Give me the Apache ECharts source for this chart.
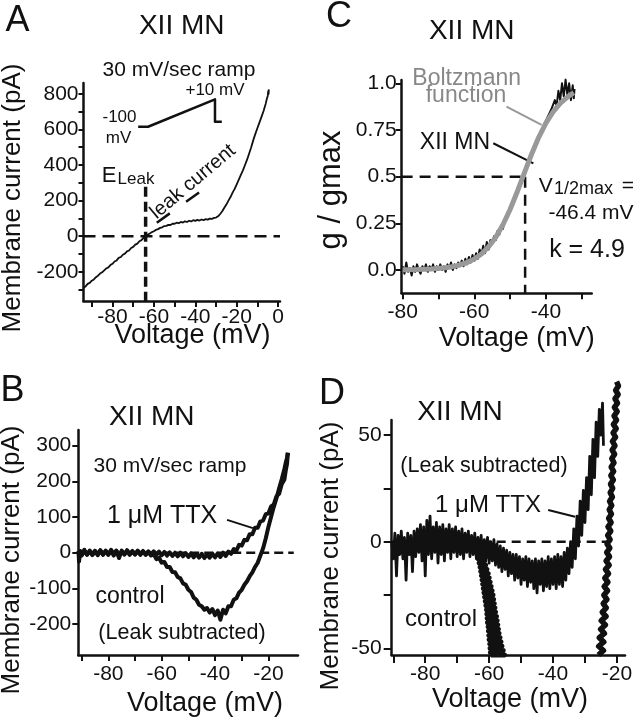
<!DOCTYPE html>
<html><head><meta charset="utf-8">
<script src="https://cdn.jsdelivr.net/npm/echarts@6/dist/echarts.min.js"></script>
<style>html,body{margin:0;padding:0;background:#fff}#c{width:641px;height:720px}</style>
</head><body><div id="c"></div>
<script>
// ================= DATA =================
// Panel A: ramp I-V (Voltage mV, current pA)
const aTrace = [[-94,-290],[-93,-282],[-92,-268],[-91,-262],[-90,-250],[-89,-243],[-88,-230],[-87,-222],[-86,-210],[-85,-203],
[-84,-192],[-83,-181],[-82,-175],[-81,-162],[-80,-155],[-79,-142],[-78,-136],[-77,-122],[-76,-117],[-75,-104],
[-74,-98],[-73,-85],[-72,-80],[-71,-66],[-70,-60],[-69,-47],[-68,-42],[-67,-28],[-66,-22],[-65,-9],
[-64,0],[-63,8],[-62,15],[-61,23],[-60,28],[-59,36],[-58,40],[-57,47],[-56,50],[-55,57],
[-54,58],[-53,64],[-52,63],[-51,70],[-50,70],[-49,76],[-48,73],[-47,80],[-46,77],[-45,84],
[-44,80],[-43,87],[-42,83],[-41,90],[-40,86],[-39,92],[-38,88],[-37,94],[-36,90],[-35,96],
[-34,93],[-33,99],[-32,97],[-31,103],[-30,105],[-29,112],[-28,125],[-27,140],[-26,160],[-25,178],
[-24,200],[-23,220],[-22,245],[-21,266],[-20,292],[-19,318],[-18,345],[-17,370],[-16,400],[-15,430],
[-14,465],[-13,500],[-12,540],[-11,575],[-10,608],[-9,640],[-8,672],[-7,705],[-6,745],
[-5.5,770],[-5,790],[-4.8,815],[-4.6,800],[-4.5,825]];
const aRampInset = [[-67.6,615],[-62.8,615],[-30.5,769],[-30.5,643],[-27.2,643]];
const aLeakLine = [[-58.6,76],[-37.7,250]];
const aZeroLine = [[-94,0],[0.9,0]];
const aELeakLine = [[-64,278],[-64,-364]];
const aXTicks = [-90,-80,-70,-60,-50,-40,-30,-20,-10,0];
const aXLabels = [-80,-60,-40,-20,0];
const aYTicks = [-300,-200,-100,0,100,200,300,400,500,600,700,800];
const aYLabels = [-200,0,200,400,600,800];

// Panel C: normalized conductance
const cTrace = [[-80,0.02],[-79.5,-0.02],[-79,0.04],[-78.5,-0.01],[-78,0.01],[-77.5,-0.03],[-77,0.02],[-76.5,-0.01],[-76,0.03],[-75.5,0.0],
[-75,-0.02],[-74.5,0.02],[-74,0.0],[-73.5,0.03],[-73,-0.01],[-72.5,0.02],[-72,0.0],[-71.5,0.03],[-71,-0.01],[-70.5,0.02],
[-70,0.0],[-69.5,0.03],[-69,0.0],[-68.5,0.02],[-68,-0.01],[-67.5,0.03],[-67,0.01],[-66.5,0.04],[-66,0.0],[-65.5,0.03],
[-65,0.01],[-64.5,0.04],[-64,0.02],[-63.5,0.05],[-63,0.02],[-62.5,0.06],[-62,0.03],[-61.5,0.07],[-61,0.04],[-60.5,0.08],
[-60,0.05],[-59.5,0.09],[-59,0.06],[-58.5,0.11],[-58,0.08],[-57.5,0.13],[-57,0.09],[-56.5,0.15],[-56,0.11],[-55.5,0.16],
[-55,0.14],[-54.5,0.18],[-54,0.16],[-53.5,0.21],[-53,0.19],[-52.5,0.24],[-52,0.22],[-51.5,0.27],[-51,0.26],[-50.5,0.31],
[-50,0.30],[-49.5,0.35],[-49,0.34],[-48.5,0.40],[-48,0.39],[-47.5,0.44],[-47,0.44],[-46.5,0.49],[-46,0.52],[-45.5,0.55],
[-45,0.57],[-44.5,0.60],[-44,0.62],[-43.5,0.65],[-43,0.67],[-42.5,0.69],[-42,0.71],[-41.5,0.74],[-41,0.75],[-40.5,0.78],
[-40,0.79],[-39.5,0.82],[-39,0.82],[-38.5,0.86],[-38,0.85],[-37.5,0.91],[-37,0.88],[-36.5,0.96],[-36,0.91],[-35.5,1.00],
[-35,0.93],[-34.5,1.02],[-34,0.94],[-33.5,1.00],[-33,0.91],[-32.5,0.99],[-32.2,0.92],[-32,0.97]];
const cFitV = [-80,-76,-72,-68,-65,-62,-60,-58,-56,-54,-52,-50,-48,-46.4,-45,-44,-42,-40,-38,-36,-34,-33,-32.2];
const cFitG = [0.001,0.002,0.005,0.012,0.022,0.040,0.059,0.086,0.124,0.175,0.242,0.324,0.419,0.5,0.571,0.62,0.711,0.787,0.847,0.893,0.926,0.94,0.95];
const cHalfH = [[-80.3,0.5],[-45.8,0.5]];
const cHalfV = [[-45.8,0.5],[-45.8,-0.125]];
const cPtrTrace = [[-54.7,0.679],[-43.5,0.571]];
const cPtrFit = [[-51,0.875],[-41.2,0.777]];
const cXTicks = [-80,-70,-60,-50,-40,-30];
const cXLabels = [-80,-60,-40];
const cYTicks = [0,0.25,0.5,0.75,1];
const cYLabelText = ['0.0','0.25','0.5','0.75','1.0'];

// Panel B: leak-subtracted currents (pA)
const bTTX = [[-91.2,5],[-91,-25],[-90.5,5],[-90,-5],[-89,8],[-88,-6],[-87,6],[-86,-4],[-85,5],[-84,-7],[-83,7],[-82,-5],[-81,6],[-80,-6],
[-79,8],[-78,-4],[-77,6],[-76,-15],[-75,6],[-74,-5],[-73,7],[-72,-4],[-71,5],[-70,-5],[-69,6],[-68,-4],[-67,5],[-66,-6],
[-65,4],[-64,-5],[-63,4],[-62,-6],[-61,3],[-60,-7],[-59,2],[-58,-8],[-57,1],[-56,-9],[-55,0],[-54,-10],[-53,0],[-52,-10],
[-51,-1],[-50,-12],[-49,-2],[-48,-13],[-47,-3],[-46,-14],[-45,-3],[-44,-15],[-43,-4],[-42,-14],[-41,-3],[-40,-13],[-39,-2],
[-38,-12],[-37,0],[-36,-9],[-35,3],[-34,-3],[-33,10],[-32,6],[-31,22],[-30,20],[-29,36],[-28,35],[-27,52],[-26,52],[-25,70],
[-24,70],[-23,88],[-22,90],[-21,108],[-20,110],[-19,130],[-18,135],[-17,158],[-16,165],[-15,192],[-14,205],[-13.5,230],
[-13,250],[-12.8,270],[-12.6,280]];
const bControl = [[-91,0],[-90,-8],[-89,5],[-88,-5],[-87,4],[-86,-7],[-85,5],[-84,-4],[-83,6],[-82,-6],[-81,4],[-80,-5],[-79,6],
[-78,-8],[-77,5],[-76,-6],[-75,4],[-74,-5],[-73,5],[-72,-6],[-71,3],[-70,-5],[-69,4],[-68,-6],[-67,3],[-66,-5],[-65,2],[-64,-8],
[-63,-4],[-62,-18],[-61,-14],[-60,-28],[-59,-26],[-58,-40],[-57,-40],[-56,-54],[-55,-55],[-54,-68],[-53,-72],[-52,-86],[-51,-90],
[-50,-104],[-49,-110],[-48,-126],[-47,-132],[-46,-146],[-45,-150],[-44,-160],[-43,-155],[-42,-168],[-41,-158],[-40,-175],[-39,-162],
[-38,-188],[-37,-160],[-36,-170],[-35,-150],[-34,-150],[-33,-132],[-32,-128],[-31,-112],[-30,-104],[-29,-90],[-28,-80],[-27,-66],
[-26,-55],[-25,-40],[-24,-28],[-23,-8],[-22,12],[-21,40],[-20,72],[-19,100],[-18,128],[-17,152],[-16,180],[-15,206],[-14,235],
[-13.5,252],[-13,266],[-12.8,280]];
const bZeroLine = [[-91.3,0],[-10.5,0]];
const bPtr = [[-35.5,92],[-25.8,69]];
const bXTicks = [-90,-80,-70,-60,-50,-40,-30,-20];
const bXLabels = [-80,-60,-40,-20];
const bYTicks = [-200,-100,0,100,200,300];

// Panel D: expanded view (pA)
const dTTX = [[-90.5,0],[-90,-8],[-89.5,4],[-89,-16],[-88.5,3],[-88,-6],[-87.5,5],[-87,-8],[-86.5,2],[-86,-18],[-85.5,4],[-85,-6],
[-84.5,3],[-84,-14],[-83.5,5],[-83,-7],[-82.5,6],[-82,-5],[-81.5,8],[-81,-9],[-80.5,7],[-80,-16],[-79.5,10],[-79,-6],[-78.5,12],
[-78,-8],[-77.5,7],[-77,-5],[-76.5,9],[-76,-10],[-75.5,7],[-75,-6],[-74.5,8],[-74,-9],[-73.5,6],[-73,-5],[-72.5,8],[-72,-8],
[-71.5,6],[-71,-5],[-70.5,7],[-70,-7],[-69.5,5],[-69,-6],[-68.5,6],[-68,-8],[-67.5,4],[-67,-5],[-66.5,5],[-66,-7],[-65.5,3],
[-65,-6],[-64.5,4],[-64,-8],[-63.5,2],[-63,-7],[-62.5,3],[-62,-9],[-61.5,1],[-61,-8],[-60.5,2],[-60,-10],[-59.5,0],[-59,-9],
[-58.5,1],[-58,-11],[-57.5,-1],[-57,-12],[-56.5,-2],[-56,-14],[-55.5,-3],[-55,-13],[-54.5,-4],[-54,-16],[-53.5,-5],[-53,-15],
[-52.5,-6],[-52,-18],[-51.5,-6],[-51,-17],[-50.5,-7],[-50,-20],[-49.5,-8],[-49,-18],[-48.5,-7],[-48,-21],[-47.5,-8],[-47,-19],
[-46.5,-9],[-46,-22],[-45.5,-8],[-45,-24],[-44.5,-9],[-44,-20],[-43.5,-8],[-43,-23],[-42.5,-9],[-42,-21],[-41.5,-7],[-41,-22],
[-40.5,-8],[-40,-20],[-39.5,-7],[-39,-22],[-38.5,-6],[-38,-20],[-37.5,-7],[-37,-21],[-36.5,-5],[-36,-18],[-35.5,-3],[-35,-15],
[-34.5,0],[-34,-12],[-33.5,6],[-33,-8],[-32.5,12],[-32,-2],[-31.5,19],[-31,3],[-30.5,24],[-30,9],[-29.5,30],[-29,15],[-28.5,40],
[-28,22],[-27.5,48],[-27,30],[-26.5,56],[-26,40],[-25.5,62],[-25,50],[-24.5,65],[-24.2,45]];
const dControlLeft = [[-66,-2],[-64,-4],[-62,-5],[-63.7,-6],[-61.7,-7],[-63.4,-8],[-61.4,-9],[-63.1,-10],[-61.1,-11],[-62.8,-12],
[-60.7,-13],[-62.6,-14],[-60.3,-15],[-62.4,-16],[-60,-17],[-62.2,-18],[-59.7,-19],[-62,-20],[-59.4,-21],[-61.8,-22],[-59.1,-23],
[-61.6,-24],[-58.8,-25],[-61.4,-26],[-58.6,-27],[-61.2,-28],[-58.4,-29],[-61,-30],[-58.2,-31],[-60.8,-32],[-58,-33],[-60.7,-34],
[-57.7,-35],[-60.6,-36],[-57.5,-37],[-60.5,-38],[-57.3,-39],[-60.3,-40],[-57.1,-41],[-60.2,-42],[-56.9,-43],[-60.1,-44],[-56.6,-45],
[-60,-46],[-56.3,-47],[-59.8,-48],[-56,-49],[-59.7,-50],[-55.6,-51],[-59.6,-52],[-55.2,-53.1],[-59.5,-53.1]];
const dControlRight = [[-25.8,-53.1],[-24.2,-51],[-25.7,-49],[-24.1,-47],[-25.5,-45],[-23.9,-43],[-25.1,-41],[-23.6,-39],[-24.9,-37],
[-23.4,-35],[-24.6,-33],[-23.3,-31],[-24.3,-29],[-23.1,-27],[-24.1,-25],[-22.9,-23],[-24,-21],[-22.8,-19],[-23.8,-17],[-22.6,-15],
[-23.6,-13],[-22.4,-11],[-23.4,-9],[-22.3,-7],[-23.2,-5],[-22.2,-3],[-23.1,-1],[-22.1,1],[-22.9,3],[-21.9,5],[-22.8,7],[-21.8,9],
[-22.6,11],[-21.7,13],[-22.4,15],[-21.6,17],[-22.3,19],[-21.4,21],[-22.1,23],[-21.3,25],[-22,27],[-21.1,29],[-21.9,31],[-21,33],
[-21.8,35],[-20.9,37],[-21.6,39],[-20.7,41],[-21.5,43],[-20.6,45],[-21.4,47],[-20.4,49],[-21.2,51],[-20.2,53],[-21.1,55],[-20.1,57],
[-20.9,59],[-19.9,61],[-20.8,63],[-19.8,65],[-20.6,67],[-19.6,69],[-20.4,71],[-19.5,73],[-20.1,75]];
const dZeroLine = [[-90.5,0],[-22,0]];
const dPtr = [[-41.5,14.9],[-33.1,11.7]];
const dXTicks = [-90,-80,-70,-60,-50,-40,-30,-20];
const dXLabels = [-80,-60,-40,-20];
const dYTicks = [-50,-25,0,25,50];
const dYLabels = [-50,0,50];

// ================= CHART =================
const FF = '"Liberation Sans", Arial, Helvetica, sans-serif';
const K = '#111';
const GRAY = '#999';
const GRAYTXT = '#888';

const grids = [
  {left:83.5, top:83, width:196.5, height:218},
  {left:401.7, top:80, width:190, height:213.3},
  {left:78.3, top:430, width:219.7, height:225},
  {left:391.7, top:420, width:233.3, height:235}
];
const xr = [[-94,0.9],[-80.28,-27.2],[-91.27,-8.9],[-90.5,-17.46]];
const yr = [[-364,861],[-0.125,1.018],[-286.8,344],[-53.1,57.05]];

function axisCommon(tickVals, labelVals, tickLen, margin, fmt) {
  return {
    axisLine:{show:true, onZero:false, lineStyle:{color:K, width:2.5}},
    axisTick:{show:true, customValues:tickVals, length:tickLen, lineStyle:{color:K, width:2}},
    axisLabel:{show:true, customValues:labelVals, margin:margin, color:K, fontSize:21, fontFamily:FF,
      formatter: fmt || (v => String(v))},
    splitLine:{show:false}
  };
}
const cFmt = v => { const i = cYTicks.indexOf(v); return i >= 0 ? cYLabelText[i] : String(v); };
const xAxes = [
  Object.assign({type:'value', gridIndex:0, min:xr[0][0], max:xr[0][1]}, axisCommon(aXTicks, aXLabels, 6, 6)),
  Object.assign({type:'value', gridIndex:1, min:xr[1][0], max:xr[1][1]}, axisCommon(cXTicks, cXLabels, 6, 8)),
  Object.assign({type:'value', gridIndex:2, min:xr[2][0], max:xr[2][1]}, axisCommon(bXTicks, bXLabels, 6, 9)),
  Object.assign({type:'value', gridIndex:3, min:xr[3][0], max:xr[3][1]}, axisCommon(dXTicks, dXLabels, 8, 9))
];
const yAxes = [
  Object.assign({type:'value', gridIndex:0, min:yr[0][0], max:yr[0][1]}, axisCommon(aYTicks, aYLabels, 5, 5)),
  Object.assign({type:'value', gridIndex:1, min:yr[1][0], max:yr[1][1]}, axisCommon(cYTicks, cYTicks, 6, 5, cFmt)),
  Object.assign({type:'value', gridIndex:2, min:yr[2][0], max:yr[2][1]}, axisCommon(bYTicks, bYTicks, 6, 7)),
  Object.assign({type:'value', gridIndex:3, min:yr[3][0], max:yr[3][1]}, axisCommon(dYTicks, dYLabels, 8, 10))
];

function ln(g, data, color, width, dash, z) {
  return {type:'line', xAxisIndex:g, yAxisIndex:g, data:data, symbol:'none', showSymbol:false, clip:false,
    silent:true, animation:false, z:z||2, lineStyle:{color:color, width:width, type:dash||'solid', cap:'butt', join:'round'}};
}
const zip = (xs, ys) => xs.map((x, i) => [x, ys[i]]);

const series = [
  // A
  ln(0, aZeroLine, K, 2.5, [12,7], 1),
  ln(0, aELeakLine, K, 3.5, [10,5], 1),
  ln(0, aTrace, K, 1.8, 'solid', 3),
  ln(0, aRampInset, K, 2.5),
  ln(0, aLeakLine, K, 2.5, [16,20]),
  // C
  ln(1, cHalfH, K, 2.5, [11,7], 1),
  ln(1, cHalfV, K, 2.5, [11,7], 1),
  ln(1, cTrace, K, 2, 'solid', 2),
  ln(1, zip(cFitV, cFitG), GRAY, 5, 'solid', 3),
  ln(1, cPtrTrace, K, 2),
  ln(1, cPtrFit, GRAY, 2),
  // B
  ln(2, bZeroLine, K, 2.5, [9,5], 1),
  ln(2, bControl, K, 4, 'solid', 2),
  ln(2, bTTX, K, 4, 'solid', 2),
  ln(2, bPtr, K, 2),
  // D
  ln(3, dZeroLine, K, 2.5, [9,6], 1),
  ln(3, dTTX, K, 2.8, 'solid', 2),
  ln(3, dControlLeft, K, 5, 'solid', 2),
  ln(3, dControlRight, K, 5.5, 'solid', 2),
  ln(3, dPtr, K, 2)
];

function T(x, y, s, size, o) {
  o = o || {};
  return {type:'text', x:x, y:y, rotation:o.rot || 0, silent:true, z:100,
    style:{text:s, fontSize:size, fontFamily:FF, fill:o.fill || K, align:o.align || 'center', verticalAlign:'middle'}};
}
const R90 = Math.PI / 2;
const texts = [
  // A
  T(17.5, 21, 'A', 36), T(181.7, 26, 'XII MN', 28), T(179, 70, '30 mV/sec ramp', 21),
  T(215, 90, '+10 mV', 17), T(119.5, 117.5, '-100', 17), T(118.5, 138, 'mV', 17),
  T(109.2, 175.8, 'E', 22), T(136, 179.5, 'Leak', 17),
  T(193, 181.7, 'leak current', 20, {rot: 40 * Math.PI / 180}),
  T(13, 198, 'Membrane current (pA)', 26, {rot: R90}), T(192.5, 336, 'Voltage (mV)', 27),
  // C
  T(339, 17, 'C', 36), T(471.7, 31.7, 'XII MN', 28),
  T(466.7, 79, 'Boltzmann', 23, {fill: GRAYTXT}), T(466, 96, 'function', 23, {fill: GRAYTXT}),
  T(455, 143, 'XII MN', 23),
  T(545.8, 186, 'V', 21), T(554, 189, '1/2max', 18, {align:'left'}), T(628, 186, '=', 21),
  T(591, 213, '-46.4 mV', 21), T(587, 250, 'k = 4.9', 25),
  T(331, 190, 'g / gmax', 31, {rot: R90}), T(516.7, 339, 'Voltage (mV)', 27),
  // B
  T(12.5, 391, 'B', 36), T(151.7, 417, 'XII MN', 28), T(170, 466, '30 mV/sec ramp', 21),
  T(162, 516, '1 \u03bcM TTX', 25), T(130, 597, 'control', 23), T(182, 633, '(Leak subtracted)', 21.5),
  T(12, 560, 'Membrane current (pA)', 26, {rot: R90}), T(205, 704, 'Voltage (mV)', 27),
  // D
  T(332, 394, 'D', 36), T(460, 412, 'XII MN', 28), T(484, 466, '(Leak subtracted)', 21.5),
  T(488, 505, '1 \u03bcM TTX', 24), T(441, 619, 'control', 24),
  T(331, 556, 'Membrane current (pA)', 26, {rot: R90}), T(510, 700, 'Voltage (mV)', 27)
];

const chart = echarts.init(document.getElementById('c'), null, {renderer:'canvas'});
chart.setOption({
  backgroundColor:'#fff', animation:false,
  grid: grids, xAxis: xAxes, yAxis: yAxes, series: series,
  graphic: {elements: texts}
});
</script></body></html>
